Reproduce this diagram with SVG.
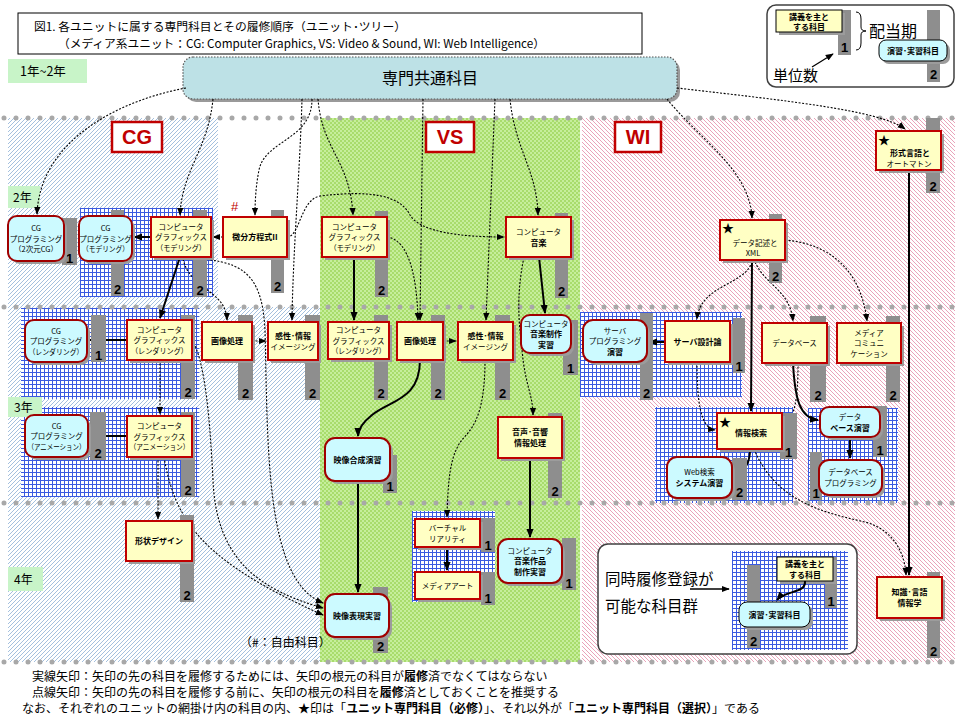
<svg xmlns="http://www.w3.org/2000/svg" width="960" height="720" viewBox="0 0 960 720">
<defs>
<pattern id="pcg" width="4" height="4" patternUnits="userSpaceOnUse"><rect width="4" height="4" fill="#fff"/><path d="M0,4 L4,0 M-1,1 L1,-1 M3,5 L5,3" stroke="#9ab9da" stroke-width="0.9"/></pattern>
<pattern id="pwi" width="4" height="4" patternUnits="userSpaceOnUse"><rect width="4" height="4" fill="#fff"/><path d="M0,0 L4,4 M-1,3 L1,5 M3,-1 L5,1" stroke="#e899b2" stroke-width="0.9"/></pattern>
<pattern id="pvs" width="4" height="4" patternUnits="userSpaceOnUse"><rect width="4" height="4" fill="#c6ee9c"/><rect width="2" height="2" fill="#a8dc6c"/><rect x="2" y="2" width="2" height="2" fill="#a8dc6c"/></pattern>
<pattern id="pgrid" width="4" height="4" patternUnits="userSpaceOnUse"><rect width="4" height="4" fill="#fff"/><path d="M0,0.5 H4 M0.5,0 V4" stroke="#3a5ae0" stroke-width="1"/></pattern>
<marker id="ah" viewBox="0 0 10 10" refX="9" refY="5" markerWidth="9" markerHeight="9" markerUnits="userSpaceOnUse" orient="auto"><path d="M0,1 L10,5 L0,9 Z" fill="#000"/></marker>
<marker id="ad" viewBox="0 0 10 10" refX="9" refY="5" markerWidth="8" markerHeight="8" markerUnits="userSpaceOnUse" orient="auto"><path d="M0,1 L10,5 L0,9 Z" fill="#000"/></marker>
<style>
.y{fill:#ffffc4;stroke:#c00000;stroke-width:2}
.c{fill:#ccfaff;stroke:#a00000;stroke-width:2}
.sh{fill:#9c9c9c}
.bar{fill:#8e8e8e}
.num{font-family:'Liberation Sans',Arial,sans-serif;font-weight:bold;font-size:13px;text-anchor:middle;fill:#000}
.t{font-family:'Noto Sans CJK JP','Noto Sans',sans-serif;font-size:7.5px;text-anchor:middle;fill:#000}
.tb{font-family:'Noto Sans CJK JP','Noto Sans',sans-serif;font-size:8px;font-weight:bold;text-anchor:middle;fill:#000}
.jp{font-family:'Noto Sans CJK JP','Noto Sans',sans-serif;fill:#000}
.yr{fill:#c8f4c8}
.lab{fill:#fff;stroke:#c00000;stroke-width:2.5}
.labt{font-family:'Liberation Sans',Arial,sans-serif;font-weight:bold;font-size:20px;fill:#c00000;text-anchor:middle}
.sep{stroke:#a8a8a8;stroke-width:5;stroke-linecap:round;stroke-dasharray:0 12;fill:none}
.s{stroke:#000;stroke-width:2;fill:none;marker-end:url(#ah)}
.d{stroke:#000;stroke-width:1.1;stroke-dasharray:2 1.6;fill:none;marker-end:url(#ad)}
.thin{stroke:#000;stroke-width:1.3;fill:none;marker-end:url(#ad)}
.star{font-family:'Noto Sans CJK JP','DejaVu Sans',sans-serif;font-size:12px;fill:#000}
</style>
</defs>
<rect width="960" height="720" fill="#fff"/>

<g id="regions">
<rect x="8" y="118" width="210" height="189" fill="url(#pcg)"/>
<rect x="8" y="307" width="312" height="355" fill="url(#pcg)"/>
<rect x="320" y="118" width="260" height="544" fill="url(#pvs)"/>
<rect x="582" y="118" width="373" height="544" fill="url(#pwi)"/>
</g>

<g id="grids">
<rect x="80" y="208" width="133" height="89" fill="url(#pgrid)"/>
<rect x="21" y="308" width="178" height="91" fill="url(#pgrid)"/>
<rect x="21" y="407" width="178" height="90" fill="url(#pgrid)"/>
<rect x="412" y="511" width="83" height="91" fill="url(#pgrid)"/>
<rect x="580" y="312" width="162" height="85" fill="url(#pgrid)"/>
<rect x="655" y="407" width="138" height="96" fill="url(#pgrid)"/>
<rect x="808" y="408" width="90" height="95" fill="url(#pgrid)"/>
</g>

<g id="separators">
<path class="sep" d="M4,118 H956"/>
<path class="sep" d="M4,307 H956"/>
<path class="sep" d="M4,503 H956"/>
<path class="sep" d="M4,662 H956"/>
</g>

<g id="title">
<rect x="18" y="13" width="624" height="41" fill="#fff" stroke="#000" stroke-width="1"/>
<text class="jp" x="34" y="31" font-size="11.5" textLength="372" lengthAdjust="spacingAndGlyphs">図1.  各ユニットに属する専門科目とその履修順序（ユニット･ツリー）</text>
<text class="jp" x="58" y="48" font-size="11.5" textLength="487" lengthAdjust="spacingAndGlyphs">（メディア系ユニット：CG: Computer Graphics, VS: Video &amp; Sound, WI: Web Intelligence）</text>
</g>

<g id="year-labels">
<rect class="yr" x="8" y="59" width="79" height="24"/>
<text class="jp" x="20" y="76" font-size="12.5">1年~2年</text>
<rect class="yr" x="8" y="186" width="32" height="22"/>
<text class="jp" x="13" y="202" font-size="12">2年</text>
<rect class="yr" x="8" y="397" width="34" height="20"/>
<text class="jp" x="14" y="412" font-size="12">3年</text>
<rect class="yr" x="8" y="567" width="35" height="24"/>
<text class="jp" x="14" y="584" font-size="12">4年</text>
</g>

<g id="unit-labels">
<rect class="lab" x="112" y="122" width="50" height="30"/><text class="labt" x="137" y="144">CG</text>
<rect class="lab" x="426" y="122" width="48" height="30"/><text class="labt" x="450" y="144">VS</text>
<rect class="lab" x="615" y="122" width="46" height="30"/><text class="labt" x="638" y="144">WI</text>
</g>

<g id="legend-top">
<rect x="767" y="5" width="187" height="82" rx="9" fill="#fff" stroke="#404040" stroke-width="1.5"/>
<rect class="bar" x="838" y="10" width="13" height="45"/><text class="num" x="844.5" y="52">1</text>
<rect class="sh" x="779" y="13" width="66" height="22"/>
<rect x="776" y="10" width="66" height="22" fill="#ffffc4" stroke="#000" stroke-width="1"/>
<text class="tb" x="809" y="20">講義を主と</text><text class="tb" x="809" y="30">する科目</text>
<path d="M856,12 Q861,12 861,19 L861,27 Q861,31 866,31 Q861,31 861,35 L861,43 Q861,50 856,50" stroke="#000" stroke-width="1" fill="none"/>
<text class="jp" x="869" y="37" font-size="16">配当期</text>
<rect class="bar" x="927" y="10" width="13" height="72"/><text class="num" x="933.5" y="79">2</text>
<rect class="sh" x="882" y="43" width="68" height="21" rx="7"/>
<rect x="879" y="40" width="68" height="21" rx="7" fill="#ccfaff" stroke="#000" stroke-width="1"/>
<text class="tb" x="913" y="54">演習･実習科目</text>
<text class="jp" x="773" y="81" font-size="15">単位数</text>
<path class="thin" d="M812,67 L833,54"/>
</g>

<g id="n-common">
<rect x="186" y="60" width="494" height="42" rx="10" fill="#9a9a9a"/>
<rect x="183" y="57" width="494" height="42" rx="10" fill="#bde1e6" stroke="#555" stroke-width="1.2" stroke-dasharray="1.5 1.5"/>
<text class="jp" x="430" y="84" font-size="16" text-anchor="middle" fill="#222">専門共通科目</text>
</g>

<g id="connectors">
<path class="d" d="M186,88 C120,100 40,140 37,214"/>
<path class="d" d="M213,99 C208,150 182,170 180,215"/>
<path class="d" d="M302,99 C300,170 293,250 292,320"/>
<path class="d" d="M312,99 C312,140 265,140 259,170 C256,185 255,200 255,215"/>
<path class="d" d="M318,99 C322,150 350,160 353,215"/>
<path class="d" d="M423,99 L420,320"/>
<path class="d" d="M495,99 L486,320"/>
<path class="d" d="M510,99 C515,150 537,170 538,215"/>
<path class="d" d="M667,99 C700,140 750,170 752,218"/>
<path class="d" d="M677,88 C780,100 880,110 905,129"/>
<path class="d" d="M223,237 L213,237"/>
<path class="d" d="M287,237 C300,237 300,200 320,196 C370,190 400,195 410,215 C420,232 460,237 504,237"/>
<path class="d" d="M183,259 C190,290 226,290 227,320"/>
<path class="d" d="M185,258 C240,260 262,270 265,330 C268,450 265,580 323,603"/>
<path class="d" d="M252,341 L266,341"/>
<path class="d" d="M192,340 C205,360 210,420 213,480 C216,560 260,590 323,608"/>
<path class="d" d="M160,360 L160,414"/>
<path class="d" d="M158,457 L158,519"/>
<path class="d" d="M164,457 C175,520 200,560 323,615"/>
<path class="s" d="M151,237 L134,237"/>
<path class="s" d="M180,257 L160,318"/>
<path class="s" d="M127,340 L89,340"/>
<path class="s" d="M127,436 L90,436"/>
<path class="d" d="M387,237 C410,240 417,280 418,320"/>
<path class="d" d="M443,341 L456,341"/>
<path class="d" d="M485,360 C485,420 470,430 462,440 C450,455 448,480 447,517"/>
<path class="d" d="M524,257 C515,300 520,330 522,350 C525,385 533,395 533,415"/>
<path class="s" d="M354,257 L354,320"/>
<path class="s" d="M539,257 L545,313"/>
<path class="s" d="M420,360 C420,400 390,400 372,415 C362,423 358,430 358,436"/>
<path class="s" d="M358,481 L358,592"/>
<path class="s" d="M530,458 L530,537"/>
<path class="s" d="M447,547 L447,570"/>
<path class="d" d="M752,262 C745,285 700,285 697,319"/>
<path class="d" d="M755,262 C765,285 790,290 793,321"/>
<path class="d" d="M785,240 C840,245 862,280 867,321"/>
<path class="d" d="M697,362 C697,400 700,428 715,430"/>
<path class="d" d="M798,363 C798,400 795,415 784,428"/>
<path class="d" d="M754,449 C775,500 820,512 865,522 C895,530 905,555 906,575"/>
<path class="s" d="M665,342 L649,342"/>
<path class="s" d="M752,260 L751,411"/>
<path class="s" d="M793,363 C795,400 800,418 818,420"/>
<path class="s" d="M850,437 L850,458"/>
<path class="s" d="M750,449 C750,462 746,470 735,475"/>
<path class="s" d="M909,170 L909,575"/>
</g>

<g id="n-cg2d">
<rect class="bar" x="62" y="218" width="15" height="47"/><text class="num" x="69.5" y="263">1</text>
<rect class="sh" x="11" y="219" width="56" height="45" rx="9"/>
<rect class="c" x="8" y="216" width="56" height="45" rx="9"/>
<text class="t" x="36" y="231">CG</text><text class="t" x="36" y="241.5">プログラミング</text><text class="t" x="36" y="252">（2次元CG）</text>
</g>
<g id="n-cgpm">
<rect class="bar" x="111" y="210" width="13" height="86"/><text class="num" x="117.5" y="294">2</text>
<rect class="sh" x="82" y="219" width="53" height="45" rx="9"/>
<rect class="c" x="79" y="216" width="53" height="45" rx="9"/>
<text class="t" x="105.5" y="231">CG</text><text class="t" x="105.5" y="241.5">プログラミング</text><text class="t" x="105.5" y="252" textLength="47" lengthAdjust="spacingAndGlyphs">（モデリング）</text>
</g>
<g id="n-cgm">
<rect class="bar" x="193" y="210" width="14" height="87"/><text class="num" x="200" y="295">2</text>
<rect class="sh" x="154" y="220" width="60" height="40"/>
<rect class="y" x="151" y="217" width="60" height="40"/>
<text class="t" x="181" y="229.5">コンピュータ</text><text class="t" x="181" y="240">グラフィックス</text><text class="t" x="181" y="250.5" textLength="50" lengthAdjust="spacingAndGlyphs">（モデリング）</text>
</g>
<g id="n-bibun">
<text x="231" y="211" font-family="'Liberation Sans',sans-serif" font-size="13" fill="#c00000">#</text>
<rect class="bar" x="271" y="210" width="13" height="83"/><text class="num" x="277.5" y="291">2</text>
<rect class="sh" x="226" y="220" width="64" height="40"/>
<rect class="y" x="223" y="217" width="64" height="40"/>
<text class="tb" x="255" y="240">微分方程式II</text>
</g>
<g id="n-cgpr">
<rect class="bar" x="91" y="315" width="15" height="47"/><text class="num" x="98.5" y="360">1</text>
<rect class="sh" x="28" y="323" width="62" height="42" rx="9"/>
<rect class="c" x="25" y="320" width="62" height="42" rx="9"/>
<text class="t" x="56" y="333.5">CG</text><text class="t" x="56" y="344">プログラミング</text><text class="t" x="56" y="354.5" textLength="55" lengthAdjust="spacingAndGlyphs">（レンダリング）</text>
</g>
<g id="n-cgr">
<rect class="bar" x="181" y="315" width="14" height="84"/><text class="num" x="188" y="397">2</text>
<rect class="sh" x="130" y="323" width="65" height="40"/>
<rect class="y" x="127" y="320" width="65" height="40"/>
<text class="t" x="159.5" y="332.5">コンピュータ</text><text class="t" x="159.5" y="343">グラフィックス</text><text class="t" x="159.5" y="353.5" textLength="57" lengthAdjust="spacingAndGlyphs">（レンダリング）</text>
</g>
<g id="n-gazo1">
<rect class="bar" x="238" y="315" width="15" height="85"/><text class="num" x="245.5" y="398">2</text>
<rect class="sh" x="205" y="325" width="50" height="38"/>
<rect class="y" x="202" y="322" width="50" height="38"/>
<text class="tb" x="227" y="344">画像処理</text>
</g>
<g id="n-kansei1">
<rect class="bar" x="305" y="315" width="15" height="85"/><text class="num" x="312.5" y="398">2</text>
<rect class="sh" x="271" y="325" width="50" height="38"/>
<rect class="y" x="268" y="322" width="50" height="38"/>
<text class="tb" x="293" y="339">感性･情報</text><text class="t" x="293" y="350">イメージング</text>
</g>
<g id="n-cgpa">
<rect class="bar" x="90" y="412" width="16" height="48"/><text class="num" x="98" y="458">2</text>
<rect class="sh" x="28" y="418" width="63" height="42" rx="9"/>
<rect class="c" x="25" y="415" width="63" height="42" rx="9"/>
<text class="t" x="56.5" y="428.5">CG</text><text class="t" x="56.5" y="439">プログラミング</text><text class="t" x="56.5" y="449.5" textLength="58" lengthAdjust="spacingAndGlyphs">（アニメーション）</text>
</g>
<g id="n-cga">
<rect class="bar" x="181" y="412" width="14" height="85"/><text class="num" x="188" y="495">2</text>
<rect class="sh" x="130" y="419" width="65" height="41"/>
<rect class="y" x="127" y="416" width="65" height="41"/>
<text class="t" x="159.5" y="429">コンピュータ</text><text class="t" x="159.5" y="439.5">グラフィックス</text><text class="t" x="159.5" y="450" textLength="60" lengthAdjust="spacingAndGlyphs">（アニメーション）</text>
</g>
<g id="n-keijo">
<rect class="bar" x="180" y="515" width="14" height="87"/><text class="num" x="187" y="600">2</text>
<rect class="sh" x="129" y="524" width="66" height="40"/>
<rect class="y" x="126" y="521" width="66" height="40"/>
<text class="tb" x="159" y="544">形状デザイン</text>
</g>

<g id="n-vscgm">
<rect class="bar" x="375" y="211" width="13" height="86"/><text class="num" x="381.5" y="295">2</text>
<rect class="sh" x="325" y="220" width="65" height="40"/>
<rect class="y" x="322" y="217" width="65" height="40"/>
<text class="t" x="354.5" y="229.5">コンピュータ</text><text class="t" x="354.5" y="240">グラフィックス</text><text class="t" x="354.5" y="250.5" textLength="50" lengthAdjust="spacingAndGlyphs">（モデリング）</text>
</g>
<g id="n-cmusic">
<rect class="bar" x="555" y="213" width="13" height="85"/><text class="num" x="561.5" y="296">2</text>
<rect class="sh" x="509" y="220" width="65" height="40"/>
<rect class="y" x="506" y="217" width="65" height="40"/>
<text class="t" x="538.5" y="235">コンピュータ</text><text class="tb" x="538.5" y="245.5">音楽</text>
</g>
<g id="n-vscgr">
<rect class="bar" x="374" y="315" width="14" height="85"/><text class="num" x="381" y="398">2</text>
<rect class="sh" x="331" y="325" width="61" height="37"/>
<rect class="y" x="328" y="322" width="61" height="37"/>
<text class="t" x="358.5" y="333">コンピュータ</text><text class="t" x="358.5" y="343.5">グラフィックス</text><text class="t" x="358.5" y="354" textLength="54" lengthAdjust="spacingAndGlyphs">（レンダリング）</text>
</g>
<g id="n-gazo2">
<rect class="bar" x="431" y="315" width="14" height="85"/><text class="num" x="438" y="398">2</text>
<rect class="sh" x="400" y="325" width="46" height="38"/>
<rect class="y" x="397" y="322" width="46" height="38"/>
<text class="tb" x="420" y="344">画像処理</text>
</g>
<g id="n-kansei2">
<rect class="bar" x="495" y="315" width="15" height="85"/><text class="num" x="502.5" y="398">2</text>
<rect class="sh" x="461" y="325" width="55" height="38"/>
<rect class="y" x="458" y="322" width="55" height="38"/>
<text class="tb" x="485.5" y="339">感性･情報</text><text class="t" x="485.5" y="350">イメージング</text>
</g>
<g id="n-mpract">
<rect class="bar" x="563" y="320" width="15" height="55"/><text class="num" x="570.5" y="373">1</text>
<rect class="sh" x="524" y="318" width="50" height="38" rx="9"/>
<rect class="c" x="521" y="315" width="50" height="38" rx="9"/>
<text class="t" x="546" y="326.5">コンピュータ</text><text class="tb" x="546" y="337">音楽制作</text><text class="tb" x="546" y="347.5">実習</text>
</g>
<g id="n-eizogosei">
<rect class="bar" x="383" y="455" width="14" height="38"/><text class="num" x="390" y="491">1</text>
<rect class="sh" x="328" y="441" width="65" height="43" rx="10"/>
<rect class="c" x="325" y="438" width="65" height="43" rx="10"/>
<text class="tb" x="357.5" y="462.5">映像合成演習</text>
</g>
<g id="n-onsei">
<rect class="bar" x="548" y="413" width="14" height="85"/><text class="num" x="555" y="496">2</text>
<rect class="sh" x="501" y="420" width="64" height="41"/>
<rect class="y" x="498" y="417" width="64" height="41"/>
<text class="tb" x="530" y="435">音声･音響</text><text class="tb" x="530" y="445.5">情報処理</text>
</g>
<g id="n-vr">
<rect class="bar" x="481" y="518" width="14" height="34"/><text class="num" x="488" y="550">1</text>
<rect class="sh" x="418" y="522" width="65" height="28"/>
<rect class="y" x="415" y="519" width="65" height="28"/>
<text class="t" x="447.5" y="531">バーチャル</text><text class="t" x="447.5" y="541.5">リアリティ</text>
</g>
<g id="n-mediaart">
<rect class="bar" x="481" y="572" width="14" height="33"/><text class="num" x="488" y="603">1</text>
<rect class="sh" x="418" y="575" width="65" height="27"/>
<rect class="y" x="415" y="572" width="65" height="27"/>
<text class="t" x="447.5" y="588.5">メディアアート</text>
</g>
<g id="n-musicwork">
<rect class="bar" x="562" y="538" width="14" height="52"/><text class="num" x="569" y="588">1</text>
<rect class="sh" x="501" y="542" width="64" height="44" rx="10"/>
<rect class="c" x="498" y="539" width="64" height="44" rx="10"/>
<text class="t" x="530" y="553.5">コンピュータ</text><text class="tb" x="530" y="564">音楽作品</text><text class="tb" x="530" y="574.5">制作実習</text>
</g>
<g id="n-eizohyogen">
<rect class="bar" x="373" y="587" width="15" height="66"/><text class="num" x="380.5" y="651">2</text>
<rect class="sh" x="328" y="597" width="64" height="43" rx="10"/>
<rect class="c" x="325" y="594" width="64" height="43" rx="10"/>
<text class="tb" x="357" y="618.5">映像表現実習</text>
</g>

<g id="n-xml">
<rect class="bar" x="769" y="214" width="13" height="69"/><text class="num" x="775.5" y="281">2</text>
<rect class="sh" x="723" y="223" width="65" height="40"/>
<rect class="y" x="720" y="220" width="65" height="40"/>
<text class="star" x="722" y="233">★</text>
<text class="t" x="755" y="246">データ記述と</text><text class="t" x="753" y="256">XML</text>
</g>
<g id="n-keishiki">
<rect class="bar" x="926" y="118" width="14" height="75"/><text class="num" x="933" y="191">2</text>
<rect class="sh" x="879" y="134" width="65" height="39"/>
<rect class="y" x="876" y="131" width="65" height="39"/>
<text class="star" x="878" y="145">★</text>
<text class="tb" x="910" y="156">形式言語と</text><text class="t" x="909" y="167">オートマトン</text>
</g>
<g id="n-serverprog">
<rect class="bar" x="640" y="313" width="13" height="87"/><text class="num" x="646.5" y="398">2</text>
<rect class="sh" x="586" y="323" width="64" height="42" rx="10"/>
<rect class="c" x="583" y="320" width="64" height="42" rx="10"/>
<text class="t" x="615" y="333.5">サーバ</text><text class="t" x="615" y="344">プログラミング</text><text class="tb" x="615" y="354.5">演習</text>
</g>
<g id="n-server">
<rect class="bar" x="733" y="318" width="12" height="55"/><text class="num" x="739" y="371">1</text>
<rect class="sh" x="668" y="324" width="65" height="41"/>
<rect class="y" x="665" y="321" width="65" height="41"/>
<text class="tb" x="697.5" y="344.5">サーバ設計論</text>
</g>
<g id="n-db">
<rect class="bar" x="810" y="316" width="16" height="86"/><text class="num" x="818" y="400">2</text>
<rect class="sh" x="765" y="326" width="65" height="40"/>
<rect class="y" x="762" y="323" width="65" height="40"/>
<text class="t" x="794.5" y="346">データベース</text>
</g>
<g id="n-mcomm">
<rect class="bar" x="886" y="316" width="14" height="86"/><text class="num" x="893" y="400">2</text>
<rect class="sh" x="840" y="326" width="64" height="40"/>
<rect class="y" x="837" y="323" width="64" height="40"/>
<text class="t" x="869" y="335.5">メディア</text><text class="t" x="869" y="346">コミュニ</text><text class="t" x="869" y="356.5">ケーション</text>
</g>
<g id="n-search">
<rect class="bar" x="780" y="413" width="17" height="46"/><text class="num" x="788.5" y="457">1</text>
<rect class="sh" x="720" y="416" width="65" height="36"/>
<rect class="y" x="717" y="413" width="65" height="36"/>
<text class="star" x="719" y="427">★</text>
<text class="tb" x="751" y="436">情報検索</text>
</g>
<g id="n-dbpract">
<rect class="bar" x="873" y="406" width="14" height="51"/><text class="num" x="880" y="455">1</text>
<rect class="sh" x="823" y="410" width="60" height="30" rx="9"/>
<rect class="c" x="820" y="407" width="60" height="30" rx="9"/>
<text class="t" x="850" y="420">データ</text><text class="tb" x="850" y="430.5">ベース演習</text>
</g>
<g id="n-websearch">
<rect class="bar" x="732" y="458" width="15" height="42"/><text class="num" x="739.5" y="497">2</text>
<rect class="sh" x="670" y="460" width="65" height="41" rx="10"/>
<rect class="c" x="667" y="457" width="65" height="41" rx="10"/>
<text class="t" x="699.5" y="475">Web検索</text><text class="tb" x="699.5" y="485.5">システム演習</text>
</g>
<g id="n-dbprog">
<rect class="bar" x="810" y="452" width="12" height="48"/><text class="num" x="816" y="498">1</text>
<rect class="sh" x="822" y="463" width="63" height="35" rx="10"/>
<rect class="c" x="819" y="460" width="63" height="35" rx="10"/>
<text class="t" x="850.5" y="475">データベース</text><text class="t" x="850.5" y="485.5">プログラミング</text>
</g>
<g id="n-chishiki">
<rect class="bar" x="927" y="572" width="13" height="86"/><text class="num" x="933.5" y="656">2</text>
<rect class="sh" x="880" y="580" width="65" height="41"/>
<rect class="y" x="877" y="577" width="65" height="41"/>
<text class="tb" x="909.5" y="595">知識･言語</text><text class="tb" x="909.5" y="605.5">情報学</text>
</g>

<g id="legend-bottom">
<rect x="598" y="544" width="259" height="110" rx="10" fill="#fff" stroke="#404040" stroke-width="1.5"/>
<rect x="732" y="551" width="116" height="99" fill="url(#pgrid)"/>
<rect class="bar" x="825" y="557" width="12" height="51"/><text class="num" x="831" y="606">1</text>
<rect class="bar" x="747" y="565" width="13" height="83"/><text class="num" x="753.5" y="646">2</text>
<rect class="sh" x="780" y="560" width="56" height="24"/>
<rect x="777" y="557" width="56" height="24" fill="#ffffc4" stroke="#000" stroke-width="1"/>
<text class="tb" x="805" y="567">講義を主と</text><text class="tb" x="805" y="578">する科目</text>
<rect class="sh" x="742" y="605" width="71" height="25" rx="8"/>
<rect x="739" y="602" width="71" height="25" rx="8" fill="#ccfaff" stroke="#000" stroke-width="1"/>
<text class="tb" x="774.5" y="618">演習･実習科目</text>
<path d="M805,581 C806,594 785,590 777,600" stroke="#000" stroke-width="2" fill="none" marker-end="url(#ah)"/>
<text class="jp" x="605" y="585" font-size="15.5">同時履修登録が</text>
<text class="jp" x="605" y="612" font-size="15.5">可能な科目群</text>
<path class="thin" d="M690,589 L729,589"/>
</g>

<g id="notes">
<text class="jp" x="240" y="647" font-size="12" fill="#c00000">（#：自由科目）</text>
<text class="jp" x="32" y="681" font-size="12">実線矢印：矢印の先の科目を履修するためには、矢印の根元の科目が<tspan font-weight="bold">履修</tspan>済でなくてはならない</text>
<text class="jp" x="32" y="697" font-size="12">点線矢印：矢印の先の科目を履修する前に、矢印の根元の科目を<tspan font-weight="bold">履修</tspan>済としておくことを推奨する</text>
<text class="jp" x="22" y="713" font-size="12">なお、それぞれのユニットの網掛け内の科目の内、★印は「<tspan font-weight="bold">ユニット専門科目（必修）</tspan>」、それ以外が「<tspan font-weight="bold">ユニット専門科目（選択）</tspan>」である</text>
</g>
</svg>
